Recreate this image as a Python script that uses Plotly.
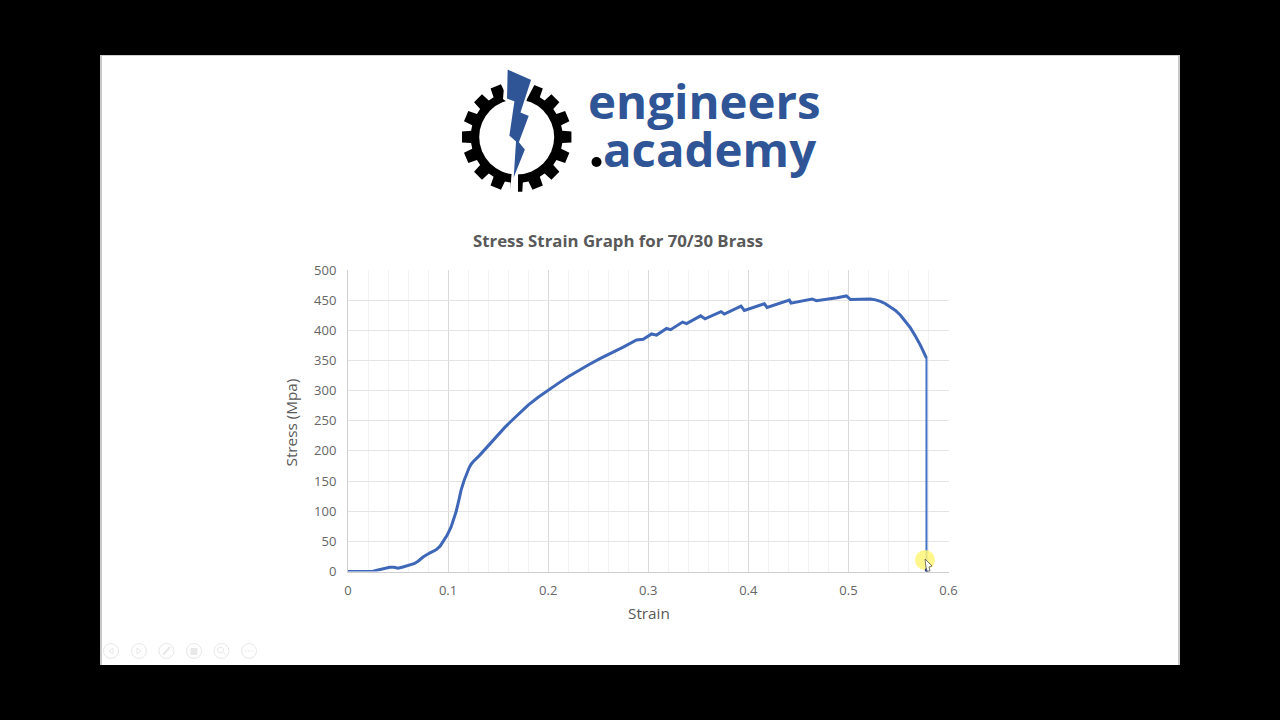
import numpy as np
import plotly.graph_objects as go

TITLE = "Stress Strain Graph for 70/30 Brass"
X_TITLE = "Strain"
Y_TITLE = "Stress (Mpa)"
strain = [0, 0.02, 0.025, 0.03, 0.035, 0.0417, 0.046, 0.05, 0.054, 0.058, 0.066, 0.07, 0.075, 0.082, 0.088, 0.092,
          0.095, 0.099, 0.103, 0.106, 0.108, 0.111, 0.113,
          0.116, 0.118, 0.121, 0.123, 0.125, 0.1317, 0.145, 0.1567, 0.165, 0.18, 0.19, 0.2, 0.21, 0.22,
          0.23, 0.24, 0.2517, 0.2633, 0.275, 0.2883,
          0.295, 0.3033, 0.3083, 0.3183, 0.3223, 0.3343, 0.3383, 0.3523, 0.3567, 0.3727, 0.376, 0.3927, 0.396,
          0.416, 0.4187, 0.441, 0.4427, 0.4637, 0.468, 0.4887, 0.498, 0.502, 0.512, 0.522, 0.527, 0.532, 0.537,
          0.542, 0.547, 0.552, 0.557, 0.562, 0.567, 0.572, 0.578]
stress = [0, 0, 0.5, 2.5, 4.5, 7, 7, 5.5, 7, 9, 13, 17, 24, 31, 36, 42,
          49, 60, 74, 87, 99, 120, 135,
          151, 160, 172, 178, 182, 193, 218, 239, 252.5, 276, 289, 301, 312, 323,
          333, 342.5, 353, 362, 372, 384,
          385, 394, 392, 403, 401, 413.6, 411, 424, 419, 431, 427, 440, 433,
          444, 438, 450, 445, 452, 449, 454, 457, 451, 452, 452, 450.5, 448, 444,
          439, 433, 425, 415, 404, 390, 375, 354]
drop_strain = [0.578, 0.578]
drop_stress = [354, 0]
LOGO_TOP = "engineers"
LOGO_BOTTOM = ".academy"
BLUE = "#2F5597"
LINE = "#3F67B8"
GREY = "#595959"
TICK_GREY = "#666666"


def px(x):
    return x / 1280


def py(y):
    return 1 - y / 720


def path(pts, close=True):
    s = "M" + " L".join(f"{px(a):.5f},{py(b):.5f}" for a, b in pts)
    return s + (" Z" if close else "")


def rect(x0, y0, x1, y1, color, line=None):
    return dict(type="rect", xref="paper", yref="paper", x0=px(x0), x1=px(x1), y0=py(y0), y1=py(y1),
                fillcolor=color, line=dict(width=1 if line else 0, color=line or color), layer="below")


def circle(cx, cy, r, fill, line=None, w=1, layer="above"):
    return dict(type="circle", xref="paper", yref="paper", x0=px(cx - r), x1=px(cx + r), y0=py(cy - r), y1=py(cy + r),
                fillcolor=fill, line=dict(width=w if line else 0, color=line or fill), layer=layer)


def poly(pts, fill, line=None, w=1, layer="above", close=True):
    return dict(type="path", xref="paper", yref="paper", path=path(pts, close), fillcolor=fill,
                line=dict(width=w if line else 0, color=line or fill), layer=layer)


# gear of the logo
cx, cy = 516.7, 137
gear = []
n = 16
for i in range(n):
    a = 2 * np.pi * i / n - np.pi / 2
    step = 2 * np.pi / n
    for da, r in [(-0.34, 46), (-0.26, 55), (0.26, 55), (0.34, 46)]:
        t = a + da * step
        gear.append((cx + r * np.cos(t), cy + r * np.sin(t)))

bolt = [(506.7, 68), (532.3, 79.3), (521.7, 112), (530, 115.3), (520, 142), (526, 149.3), (512.3, 183.7), (515, 142),
        (508.3, 136), (513.3, 102), (506, 99.3)]
bottom_gap = [(512, 170), (510, 194), (518, 194), (518, 170)]
top_gap = [(505, 75), (503, 99), (520, 112), (536, 82)]

shapes = [
    rect(0, 0, 1280, 720, "#000000"),
    rect(100, 55, 1180, 665, "#FFFFFF"),
    rect(100, 55, 1180, 56, "#D0D0D0"),
    rect(100, 55, 102, 665, "#C8C8C8"),
    rect(1178, 55, 1180, 665, "#C8C8C8"),
    poly(gear, "#000000"),
    circle(cx, cy, 37.5, "#FFFFFF"),
    poly(bottom_gap, "#FFFFFF"),
    poly(top_gap, "#FFFFFF"),
    poly(bolt, BLUE, "#FFFFFF", 2),
    circle(596.5, 162, 5, "#000000"),
    # pointer highlight
    circle(925, 560, 10, "rgba(255,245,120,0.85)"),
    circle(926.5, 570, 1.8, "#2A3F7A"),
    poly([(925, 559), (932, 566), (929, 567), (930, 571), (927, 571), (926, 567)], "#FFFFFF", "#555555", 0.8),
]
# faint slide-show toolbar
ICON = "#E8E8E8"
for bx in [111, 139, 166.5, 194, 221.5, 249]:
    shapes.append(circle(bx, 651, 7.5, "rgba(0,0,0,0)", ICON, 1))
shapes += [
    poly([(113, 648), (109, 651), (113, 654)], "rgba(0,0,0,0)", ICON, 1),
    poly([(137, 648), (141, 651), (137, 654)], "rgba(0,0,0,0)", ICON, 1),
    poly([(163, 655), (170, 647)], "rgba(0,0,0,0)", ICON, 2, close=False),
    rect(190.5, 648, 197.5, 655, ICON),
    circle(220.5, 650, 3, "rgba(0,0,0,0)", ICON, 1),
    poly([(223, 652.5), (226, 655.5)], "rgba(0,0,0,0)", ICON, 1, close=False),
    circle(246, 651, 0.8, ICON), circle(249, 651, 0.8, ICON), circle(252, 651, 0.8, ICON),
]

fig = go.Figure([
    go.Scatter(x=strain, y=stress, mode="lines", line=dict(color=LINE, width=3), hoverinfo="skip"),
    go.Scatter(x=drop_strain, y=drop_stress, mode="lines", line=dict(color="#4472C4", width=2), hoverinfo="skip"),
])

axis_font = dict(family="Open Sans", size=13, color=TICK_GREY)
title_font = dict(family="Open Sans", size=15.3, color=GREY)
logo_font = dict(family="Open Sans", size=47.4, color=BLUE, weight=700)
fig.update_layout(
    width=1280, height=720, margin=dict(l=0, r=0, t=0, b=0, pad=0), autosize=False, showlegend=False,
    paper_bgcolor="#000000", plot_bgcolor="rgba(0,0,0,0)", shapes=shapes,
    xaxis=dict(domain=[px(348), px(948.5)], range=[0, 0.6], tick0=0, dtick=0.1, tickformat="~g", automargin=False,
               showgrid=True, gridcolor="#D9D9D9", gridwidth=1, zeroline=False, showline=True, linecolor="#CFCFCF",
               ticks="", tickfont=axis_font, ticklen=0, ticklabelstandoff=7,
               minor=dict(dtick=0.02, tick0=0, showgrid=True, gridcolor="#F2F2F2", gridwidth=1, ticks="")),
    yaxis=dict(domain=[py(571.5), py(270)], range=[0, 500], dtick=50, showgrid=True, gridcolor="#E4E4E4", gridwidth=1,
               automargin=False, zeroline=False, showline=True, linecolor="#CFCFCF", ticks="", tickfont=axis_font,
               ticklabelstandoff=8),
    annotations=[
        dict(text=f"<b>{TITLE}</b>", xref="paper", yref="paper", x=px(617.5), y=py(241), xanchor="center", yanchor="middle",
             showarrow=False, font=dict(family="Open Sans", size=16.8, color=GREY)),
        dict(text=X_TITLE, xref="paper", yref="paper", x=px(648.5), y=py(613), xanchor="center", yanchor="middle",
             showarrow=False, font=title_font),
        dict(text=Y_TITLE, xref="paper", yref="paper", x=px(290), y=py(422.5), xanchor="center", yanchor="middle",
             textangle=-90, showarrow=False, font=title_font),
        dict(text=LOGO_TOP, xref="paper", yref="paper", x=px(586), y=py(101), xanchor="left", yanchor="middle",
             showarrow=False, font=logo_font),
        dict(text=LOGO_BOTTOM[1:], xref="paper", yref="paper", x=px(601), y=py(149), xanchor="left", yanchor="middle",
             showarrow=False, font=logo_font),
    ],
)
fig.write_html("out.html", config=dict(displayModeBar=False),
               post_script="document.body.style.margin='0';document.body.style.background='#000';document.body.style.overflow='hidden';")
